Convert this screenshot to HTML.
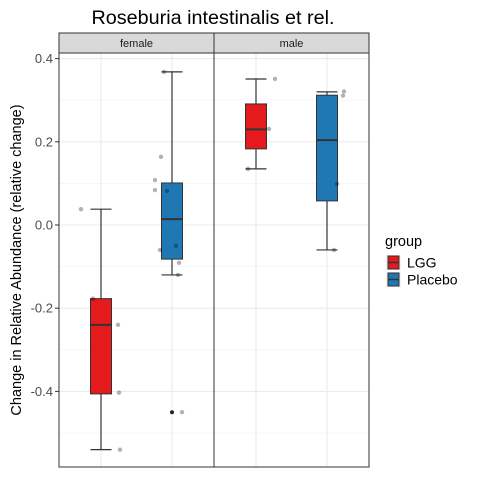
<!DOCTYPE html>
<html><head><meta charset="utf-8"><style>body{margin:0;background:#fff}svg text{font-family:"Liberation Sans",sans-serif}</style></head>
<body>
<svg id="c" width="480" height="480" viewBox="0 0 480 480"></svg>
<script>
const panels=["female","male"];
const groups=["LGG","Placebo"];
const colors=["#E41A1C","#1F78B4"];
// [upper, q3, median, q1, lower] per panel per group
const stats=[[[0.038,-0.177,-0.24,-0.406,-0.54],[0.368,0.101,0.014,-0.082,-0.12]],
             [[0.351,0.291,0.23,0.183,0.135],[0.32,0.312,0.204,0.058,-0.06]]];
const outliers=[[[],[-0.45]],[[],[]]];
// jittered points: [panel, group, jitter offset, value]
const pts=[[0,0,-20,0.038],[0,0,-8,-0.177],[0,0,17,-0.24],[0,0,18,-0.403],[0,0,19,-0.54],
[0,1,-8,0.368],[0,1,-11,0.164],[0,1,-17,0.108],[0,1,-17,0.084],[0,1,-5,0.082],[0,1,-12,-0.06],[0,1,4,-0.05],[0,1,7,-0.091],[0,1,6,-0.12],[0,1,10,-0.45],
[1,0,-8,0.135],[1,0,19,0.351],[1,0,13,0.231],
[1,1,17,0.321],[1,1,16,0.311],[1,1,10,0.099],[1,1,7,-0.06]];
const yTicks=[0.4,0.2,0.0,-0.2,-0.4];
const yTickLabels=["0.4","0.2","0.0","-0.2","-0.4"];
const NS="http://www.w3.org/2000/svg",svg=document.getElementById("c");
function y(v){return 225-416*v;}
const pX=[59,214],pW=155,pTop=53,pBot=467;
function x(p,g){return pX[p]+42+g*71;}
function mk(t,a,par){const e=document.createElementNS(NS,t);for(const k in a)e.setAttribute(k,a[k]);(par||svg).appendChild(e);return e;}
let t=mk("text",{x:213,y:24,"text-anchor":"middle","font-size":"19.8",fill:"#000"});t.textContent="Roseburia intestinalis et rel.";


panels.forEach((pn,p)=>{
 const g=mk("g",{});
 
 
 mk("rect",{x:pX[p],y:pTop,width:pW,height:pBot-pTop,fill:"#fff"},g);
 [0.3,0.1,-0.1,-0.3,-0.5].forEach(v=>mk("line",{x1:pX[p],x2:pX[p]+pW,y1:y(v),y2:y(v),stroke:"#f2f2f2","stroke-width":0.6},g));
 yTicks.forEach(v=>mk("line",{x1:pX[p],x2:pX[p]+pW,y1:y(v),y2:y(v),stroke:"#ebebeb","stroke-width":1.1},g));
 groups.forEach((gn,gi)=>mk("line",{x1:x(p,gi),x2:x(p,gi),y1:pTop,y2:pBot,stroke:"#ebebeb","stroke-width":1.1},g));
 groups.forEach((gn,gi)=>{
  const s=stats[p][gi],cx=x(p,gi),hw=10.5;
  const b=mk("g",{},g);
  
  
  mk("line",{x1:cx,x2:cx,y1:y(s[0]),y2:y(s[1]),stroke:"#333","stroke-width":1.2},b);
  mk("line",{x1:cx,x2:cx,y1:y(s[3]),y2:y(s[4]),stroke:"#333","stroke-width":1.2},b);
  mk("line",{x1:cx-hw,x2:cx+hw,y1:y(s[0]),y2:y(s[0]),stroke:"#333","stroke-width":1.2},b);
  mk("line",{x1:cx-hw,x2:cx+hw,y1:y(s[4]),y2:y(s[4]),stroke:"#333","stroke-width":1.2},b);
  mk("rect",{x:cx-hw,y:y(s[1]),width:2*hw,height:y(s[3])-y(s[1]),fill:colors[gi],stroke:"#333","stroke-width":1},b);
  mk("line",{x1:cx-hw,x2:cx+hw,y1:y(s[2]),y2:y(s[2]),stroke:"#333","stroke-width":2},b);
  outliers[p][gi].forEach(v=>mk("circle",{cx:cx,cy:y(v),r:2,fill:"#222"},b));
 });
 mk("rect",{x:pX[p],y:pTop,width:pW,height:pBot-pTop,fill:"none",stroke:"#333","stroke-width":1},g);
 const st=mk("rect",{x:pX[p],y:33,width:pW,height:20,fill:"#d9d9d9",stroke:"#333","stroke-width":1});
 
 
 const tt=mk("text",{x:pX[p]+pW/2,y:47,"text-anchor":"middle","font-size":"11",fill:"#1a1a1a"});tt.textContent=pn;
});
pts.forEach(d=>{const c=mk("circle",{cx:x(d[0],d[1])+d[2],cy:y(d[3]),r:2.2,fill:"#000","fill-opacity":0.3});
 
 
});
yTicks.forEach((v,i)=>{mk("line",{x1:55,x2:59,y1:y(v),y2:y(v),stroke:"#333"});
 const l=mk("text",{x:53,y:y(v)+4.5,"text-anchor":"end","font-size":"13",fill:"#4d4d4d"});l.textContent=yTickLabels[i];
 
 
});
const yt=mk("text",{x:0,y:0,"text-anchor":"middle","font-size":"14.5",fill:"#000",transform:"translate(21,260) rotate(-90)"});
yt.textContent="Change in Relative Abundance (relative change)";


const lg=mk("g",{});


let lt=mk("text",{x:385,y:246,"font-size":"14.5",fill:"#000"},lg);lt.textContent="group";
groups.forEach((gn,i)=>{const yy=255+i*17;
 mk("rect",{x:386,y:yy,width:15,height:15,fill:"#f2f2f2"},lg);
 mk("rect",{x:388,y:yy+1,width:11,height:13,fill:colors[i],stroke:"#333","stroke-width":1},lg);
 mk("line",{x1:388,x2:399,y1:yy+7.5,y2:yy+7.5,stroke:"#333","stroke-width":1.5},lg);
 const e=mk("text",{x:407,y:yy+12.5,"font-size":"14",fill:"#000"},lg);e.textContent=gn;
 
 
});
</script>
</body></html>
